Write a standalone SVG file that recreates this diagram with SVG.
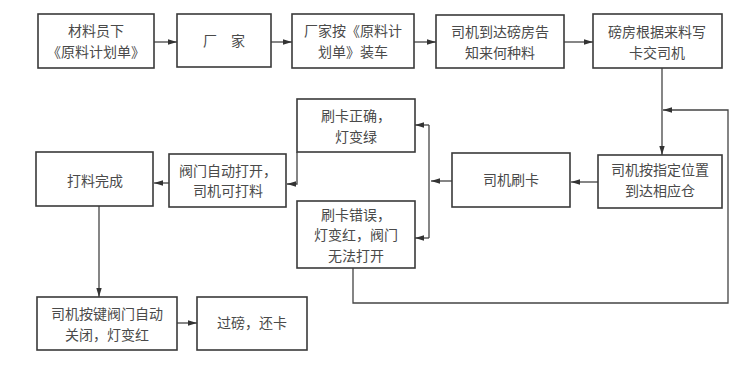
<svg xmlns="http://www.w3.org/2000/svg" width="753" height="368" viewBox="0 0 753 368">
<style>
rect.b{fill:#fff;stroke:#3a3a3a;stroke-width:1.6}
text{font-family:"Noto Sans CJK SC","Noto Sans CJK TC",sans-serif;font-size:14px;fill:#4a4a4a;text-anchor:middle}
.c path{fill:none;stroke:#444;stroke-width:1.3}
</style>
<defs>
<marker id="ah" viewBox="0 0 10 6" refX="10" refY="3" markerWidth="9" markerHeight="5.5" orient="auto" markerUnits="userSpaceOnUse"><path d="M0,0 L10,3 L0,6 z" fill="#333"/></marker>
</defs>
<rect width="753" height="368" fill="#fff"/>
<g class="c">
<path d="M154,42 H177" marker-end="url(#ah)"/>
<path d="M271,42 H292" marker-end="url(#ah)"/>
<path d="M414,42 H436" marker-end="url(#ah)"/>
<path d="M564,42 H593" marker-end="url(#ah)"/>
<path d="M662,68 V155" marker-end="url(#ah)"/>
<path d="M353,268 V303 H728 V110 H663" marker-end="url(#ah)"/>
<path d="M598,182 H571" marker-end="url(#ah)"/>
<path d="M452,181 H431" marker-end="url(#ah)"/>
<path d="M429,125 V238"/>
<path d="M429,125 H415" marker-end="url(#ah)"/>
<path d="M429,238 H415" marker-end="url(#ah)"/>
<path d="M297,152 V184 H287" marker-end="url(#ah)"/>
<path d="M169,183 H154" marker-end="url(#ah)"/>
<path d="M99,206 V297" marker-end="url(#ah)"/>
<path d="M177,323 H197" marker-end="url(#ah)"/>
</g>
<g id="n1"><rect class="b" x="38" y="14" width="116" height="54"/><text x="96" y="36.3">材料员下</text><text x="96" y="56.8">《原料计划单》</text></g>
<g id="n2"><rect class="b" x="177" y="14" width="94" height="53"/><text x="224" y="46.3">厂　家</text></g>
<g id="n3"><rect class="b" x="292" y="14" width="122" height="54"/><text x="353" y="36.3">厂家按《原料计</text><text x="353" y="56.8">划单》装车</text></g>
<g id="n4"><rect class="b" x="436" y="15" width="128" height="53"/><text x="500" y="37.3">司机到达磅房告</text><text x="500" y="57.8">知来何种料</text></g>
<g id="n5"><rect class="b" x="593" y="14" width="129" height="54"/><text x="657" y="37">磅房根据来料写</text><text x="657" y="57.5">卡交司机</text></g>
<g id="n6"><rect class="b" x="598" y="155" width="124" height="53"/><text x="660" y="175">司机按指定位置</text><text x="660" y="195.5">到达相应仓</text></g>
<g id="n7"><rect class="b" x="452" y="153" width="118" height="54"/><text x="511" y="185.3">司机刷卡</text></g>
<g id="n8"><rect class="b" x="297" y="99" width="118" height="53"/><text x="356" y="121">刷卡正确，</text><text x="356" y="141.5">灯变绿</text></g>
<g id="n9"><rect class="b" x="297" y="201" width="118" height="67"/><text x="356" y="219.5">刷卡错误，</text><text x="356" y="240">灯变红，阀门</text><text x="356" y="260.5">无法打开</text></g>
<g id="n10"><rect class="b" x="169" y="154" width="117" height="53"/><text x="228" y="175.5">阀门自动打开，</text><text x="228" y="196">司机可打料</text></g>
<g id="n11"><rect class="b" x="36" y="152" width="117" height="54"/><text x="95" y="186.3">打料完成</text></g>
<g id="n12"><rect class="b" x="37" y="297" width="140" height="53"/><text x="107" y="319">司机按键阀门自动</text><text x="107" y="339.5">关闭，灯变红</text></g>
<g id="n13"><rect class="b" x="197" y="297" width="110" height="53"/><text x="252" y="328.3">过磅，还卡</text></g>
</svg>
